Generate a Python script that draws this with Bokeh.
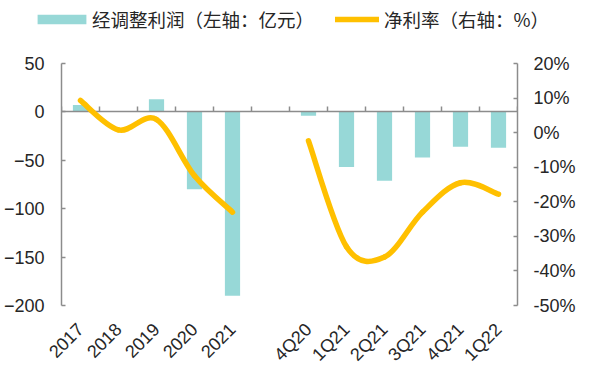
from math import pi
import numpy as np
from bokeh.plotting import figure
from bokeh.layouts import column
from bokeh.models import (Range1d, LinearAxis, FixedTicker, PrintfTickFormatter, Legend,
                          LegendItem, ColumnDataSource, CustomLabelingPolicy)
from bokeh.embed import file_html
from bokeh.resources import INLINE

# ---------------- data ----------------
categories = ["2017", "2018", "2019", "2020", "2021", "",
              "4Q20", "1Q21", "2Q21", "3Q21", "4Q21", "1Q22"]
adj_profit = [7, 1, 13, -80, -190, None, -4, -57, -71, -47, -36, -37]            # 亿元 (left axis)
net_margin = [9.3, 0.8, 3.8, -12.5, -23.0, None, -2.4, -33.0, -36.0, -23.0, -14.5, -17.8]  # % (right axis)
left_ticks = [-200, -150, -100, -50, 0, 50]
pct_ticks = [-50, -40, -30, -20, -10, 0, 10, 20]
legend_bar = "经调整利润（左轴：亿元）"
legend_line = "净利率（右轴：%）"

BAR_COLOR = "#97D8D7"
LINE_COLOR = "#FFC000"
AXIS_COLOR = "#8C8C8C"
TEXT_COLOR = "#262626"
FONT = "Liberation Sans"
CJK = "Noto Sans CJK SC"
LINE_W = 5.5

n = len(categories)
xc = [i + 0.5 for i in range(n)]
bx = [x for x, v in zip(xc, adj_profit) if v is not None]
bt = [v for v in adj_profit if v is not None]
lx = [x for x, v in zip(xc, net_margin) if v is not None]
lyv = [v for v in net_margin if v is not None]

# ---------------- main chart ----------------
p = figure(width=594, height=340, output_backend="svg", toolbar_location=None,
           x_range=Range1d(0, n), y_range=Range1d(min(left_ticks), max(left_ticks)),
           min_border_left=61, min_border_right=77, min_border_top=29, min_border_bottom=66)
p.frame_align = False
p.extra_y_ranges = {"pct": Range1d(min(pct_ticks), max(pct_ticks))}
p.outline_line_color = None
p.xgrid.visible = False
p.ygrid.visible = False
p.background_fill_color = "white"
p.border_fill_color = "white"

# bars
bars = p.vbar(x=bx, top=bt, bottom=0, width=0.4, fill_color=BAR_COLOR, line_color=None)

# smoothed line (Catmull-Rom style bezier through the data points), per contiguous run
runs, cur = [], []
for x, v in zip(xc, net_margin):
    if v is None:
        if cur:
            runs.append(cur)
        cur = []
    else:
        cur.append((x, v))
if cur:
    runs.append(cur)

seg = {k: [] for k in ["x0", "y0", "x1", "y1", "cx0", "cy0", "cx1", "cy1"]}
for r in runs:
    pts = np.array(r, dtype=float)
    m = len(pts)
    for i in range(m - 1):
        P0, P3 = pts[i], pts[i + 1]
        Pm = pts[i - 1] if i > 0 else pts[i]
        P4 = pts[i + 2] if i + 2 < m else pts[i + 1]
        C1 = P0 + (P3 - Pm) / 6.0
        C2 = P3 - (P4 - P0) / 6.0
        seg["x0"].append(P0[0]); seg["y0"].append(P0[1])
        seg["x1"].append(P3[0]); seg["y1"].append(P3[1])
        seg["cx0"].append(C1[0]); seg["cy0"].append(C1[1])
        seg["cx1"].append(C2[0]); seg["cy1"].append(C2[1])
src = ColumnDataSource(seg)
p.bezier(x0="x0", y0="y0", x1="x1", y1="y1", cx0="cx0", cy0="cy0", cx1="cx1", cy1="cy1",
         source=src, y_range_name="pct", line_color=LINE_COLOR, line_width=LINE_W,
         line_cap="round", level="overlay")


def style_y(ax, standoff):
    ax.axis_line_color = AXIS_COLOR
    ax.axis_line_width = 1.5
    ax.major_tick_line_color = AXIS_COLOR
    ax.major_tick_line_width = 1.5
    ax.major_tick_in = 4
    ax.major_tick_out = 0
    ax.minor_tick_line_color = None
    ax.major_label_text_font = FONT
    ax.major_label_text_font_size = "18px"
    ax.major_label_text_color = TEXT_COLOR
    ax.major_label_standoff = standoff


# left axis
ya = p.yaxis[0]
ya.ticker = FixedTicker(ticks=left_ticks)
style_y(ya, 17)

# right axis
ra = LinearAxis(y_range_name="pct", ticker=FixedTicker(ticks=pct_ticks),
                formatter=PrintfTickFormatter(format="%d%%"))
style_y(ra, 16)
p.add_layout(ra, "right")

# category label axis (bottom)
xa = p.xaxis[0]
xa.ticker = FixedTicker(ticks=[x for x, c in zip(xc, categories) if c])
xa.major_label_overrides = {x: c for x, c in zip(xc, categories) if c}
xa.major_label_orientation = pi / 4
xa.axis_line_color = None
xa.major_tick_line_color = None
xa.minor_tick_line_color = None
xa.major_label_text_font = FONT
xa.major_label_text_font_size = "18px"
xa.major_label_text_color = TEXT_COLOR
xa.major_label_standoff = 15

# zero line (category axis line) with category-boundary ticks pointing up
za = LinearAxis(fixed_location=0, ticker=FixedTicker(ticks=list(range(n + 1))))
za.axis_line_color = AXIS_COLOR
za.axis_line_width = 1.5
za.major_tick_line_color = AXIS_COLOR
za.major_tick_line_width = 1.5
za.major_tick_in = 0
za.major_tick_out = 5
za.minor_tick_line_color = None
za.major_label_text_font_size = "0px"
za.major_label_standoff = 0
za.major_label_policy = CustomLabelingPolicy(
    code="for (const i of Array.from(indices)) { indices.unset(i) } return indices")
p.add_layout(za, "above")

# ---------------- legend strip (above the chart) ----------------
lp = figure(width=594, height=34, output_backend="svg", toolbar_location=None,
            x_axis_location=None, y_axis_location=None,
            min_border_left=0, min_border_right=0, min_border_top=0, min_border_bottom=0)
lp.frame_align = False
lp.outline_line_color = None
lp.xgrid.visible = False
lp.ygrid.visible = False
key_bar = lp.vbar(x=bx, top=bt, width=0.4, fill_color=BAR_COLOR, line_color=None, visible=False)
key_line = lp.line(x=lx, y=lyv, line_color=LINE_COLOR, line_width=LINE_W, line_cap="round",
                   visible=False)

leg1 = Legend(items=[LegendItem(label=legend_bar, renderers=[key_bar])],
              location=(31, 2), glyph_width=61, glyph_height=12, label_standoff=0)
leg2 = Legend(items=[LegendItem(label=legend_line, renderers=[key_line])],
              location=(335, 2), glyph_width=44, glyph_height=12, label_standoff=5)
for lg in (leg1, leg2):
    lg.padding = 0
    lg.margin = 0
    lg.spacing = 0
    lg.border_line_color = None
    lg.background_fill_alpha = 0
    lg.inactive_fill_alpha = 0
    lg.label_text_font = CJK
    lg.label_text_font_size = "18.5px"
    lg.label_text_color = TEXT_COLOR
    lg.label_height = 22
    lg.orientation = "horizontal"
    lp.add_layout(lg, "center")

layout = column(lp, p, spacing=0)
open("out.html", "w").write(file_html(layout, INLINE))
